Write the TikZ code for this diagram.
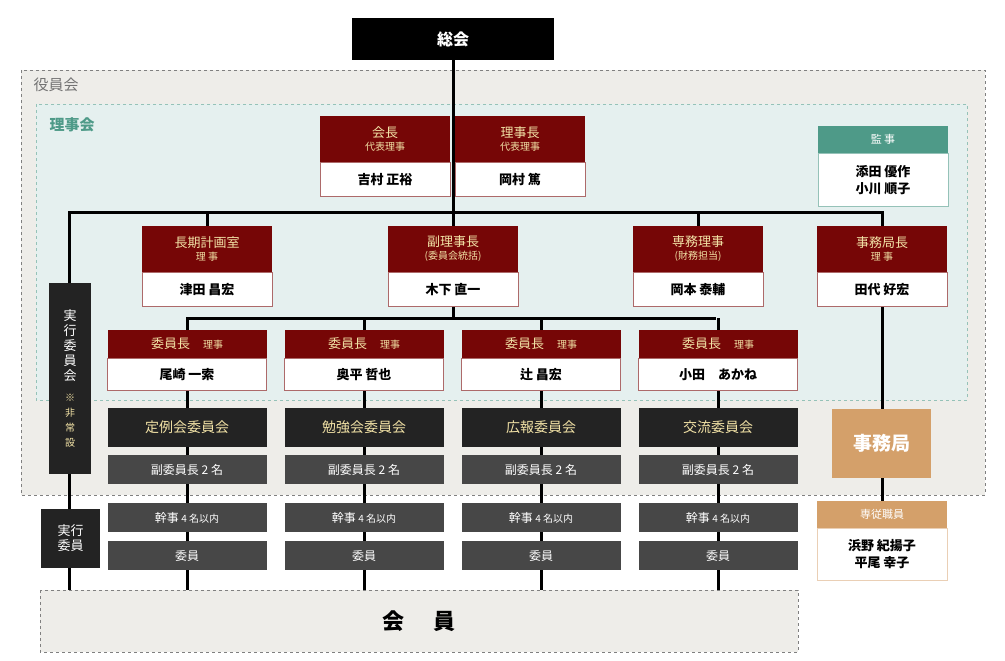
\documentclass[tikz,border=0pt]{standalone}
\usepackage{fontspec}
\setmainfont{Noto Sans CJK JP}
\usetikzlibrary{positioning}
\definecolor{darkred}{HTML}{760606}
\definecolor{cream}{HTML}{F2E2A6}
\definecolor{outerbg}{HTML}{EEEDE9}
\definecolor{innerbg}{HTML}{E5F0EF}
\definecolor{teal}{HTML}{4E9A88}
\definecolor{orange}{HTML}{D4A06A}
\definecolor{boxgray}{HTML}{474747}
\definecolor{boxblack}{HTML}{232323}
\newcommand{\smallcream}[1]{\textcolor{cream}{\fontsize{10}{11}\selectfont #1}}
\tikzset{
  head/.style={fill=darkred, text=cream, minimum width=130pt, inner sep=0pt, align=center, font=\fontsize{13}{15}\selectfont},
  body/.style={draw=darkred!60, fill=white, minimum width=130pt, inner sep=0pt, font=\fontsize{13}{15}\selectfont\bfseries},
  cmt/.style={fill=boxblack, text=cream, minimum width=159pt, minimum height=39pt, inner sep=0pt, font=\fontsize{14}{16}\selectfont},
  sub/.style={fill=boxgray, text=white, minimum width=159pt, minimum height=29pt, inner sep=0pt, font=\fontsize{12}{14}\selectfont},
  link/.style={line width=3pt}
}
\begin{document}
\begin{tikzpicture}[x=1pt, y=-1pt]
  \useasboundingbox (0,0) rectangle (1005,661);
  % Frames
  \draw[dashed, gray, fill=outerbg] (21,70) rectangle (985,495);
  \node[anchor=north west, text=gray!90!black, font=\fontsize{15}{17}\selectfont] (yakuin) at (30,74) {役員会};
  \draw[dashed, teal!60, fill=innerbg] (36,104) rectangle (967,400);
  \node[anchor=north west, text=teal, font=\fontsize{15}{17}\selectfont\bfseries] (rijikai) at (46,114) {理事会};
  \draw[dashed, gray, fill=outerbg] (40,590) rectangle (798,652);
  \node[font=\fontsize{22}{24}\selectfont\bfseries] (kaiin) at (419,621) {会\hspace{1.3em}員};

  % Lines
  \draw[link] (453,40) -- (453,318);
  \draw[link] (69,318) -- (69,212) -- (882,212) -- (882,520);
  \draw[link] (69,318) -- (69,590);
  \foreach \x in {207,453,698} \draw[link] (\x,212) -- (\x,240);
  \draw[link] (186,318) -- (716,318);
  \foreach \x in {187,364,541,718} \draw[link] (\x,318) -- (\x,590);

  % General assembly
  \node[fill=black, text=white, minimum width=202pt, minimum height=42pt, font=\fontsize{16}{18}\selectfont\bfseries] (soukai) at (453,39) {総会};

  % Chair and president
  \node[head, minimum height=46pt] (kaichoH) at (385,139) {会長\\[-2pt]{\fontsize{10}{12}\selectfont 代表理事}};
  \node[body, minimum height=34pt, below=0pt of kaichoH] (kaicho) {吉村 正裕};
  \node[head, minimum height=46pt] (rijichoH) at (520,139) {理事長\\[-2pt]{\fontsize{10}{12}\selectfont 代表理事}};
  \node[body, minimum height=34pt, below=0pt of rijichoH] (ricjicho) {岡村 篤};

  % Auditors
  \node[fill=teal, text=white, minimum width=130pt, minimum height=27pt, inner sep=0pt, font=\fontsize{11}{13}\selectfont] (kanjiH) at (883,139.5) {監 事};
  \node[draw=teal!60, fill=white, minimum width=130pt, minimum height=53pt, inner sep=0pt, align=center, below=0pt of kanjiH, font=\fontsize{13}{17}\selectfont\bfseries] (kanji) {添田 優作\\小川 順子};

  % Directors
  \node[head, minimum height=46pt] (choukiH) at (207,249) {長期計画室\\[-2pt]{\fontsize{10}{12}\selectfont 理 事}};
  \node[body, minimum height=34pt, below=0pt of choukiH] (chouki) {津田 昌宏};
  \node[head, minimum height=46pt] (fukuH) at (453,249) {副理事長\\[-2pt]{\fontsize{10}{12}\selectfont (委員会統括)}};
  \node[body, minimum height=34pt, below=0pt of fukuH] (fuku) {木下 直一};
  \node[head, minimum height=46pt] (senmuH) at (698,249) {専務理事\\[-2pt]{\fontsize{10}{12}\selectfont (財務担当)}};
  \node[body, minimum height=34pt, below=0pt of senmuH] (senmu) {岡本 泰輔};
  \node[head, minimum height=46pt] (jimuchoH) at (882,249) {事務局長\\[-2pt]{\fontsize{10}{12}\selectfont 理 事}};
  \node[body, minimum height=34pt, below=0pt of jimuchoH] (jimucho) {田代 好宏};

  % Committees
  \foreach \x/\nm/\cm [count=\i] in {187/尾崎 一索/定例会委員会, 364/奥平 哲也/勉強会委員会, 541/辻 昌宏/広報委員会, 718/小田\quad あかね/交流委員会} {
    \node[head, minimum width=159pt, minimum height=28pt] (chairH\i) at (\x,344) {委員長\quad{\fontsize{10}{12}\selectfont 理事}};
    \node[body, minimum width=159pt, minimum height=32pt, below=0pt of chairH\i] (chair\i) {\nm};
    \node[cmt] (cmt\i) at (\x,427.5) {\cm};
    \node[sub] (vice\i) at (\x,469.5) {副委員長 2 名};
    \node[sub] (kanji\i) at (\x,517.5) {幹事 {\fontsize{10}{12}\selectfont 4 名以内}};
    \node[sub] (iin\i) at (\x,555.5) {委員};
  }

  % Executive committee
  \node[fill=boxblack, text=white, minimum width=42pt, minimum height=191pt, inner sep=0pt, align=center, font=\fontsize{13}{15}\selectfont] (jikkoukai) at (70,378.5) {実\\行\\委\\員\\会\\[6pt]\smallcream{※}\\\smallcream{非}\\\smallcream{常}\\\smallcream{設}};
  \node[fill=boxblack, text=white, minimum width=59pt, minimum height=59pt, inner sep=0pt, align=center, font=\fontsize{13}{15}\selectfont] (jikkou) at (70.5,538.5) {実行\\委員};

  % Secretariat
  \node[fill=orange, text=white, minimum width=99pt, minimum height=69pt, font=\fontsize{19}{21}\selectfont\bfseries] (jimukyoku) at (881.5,443.5) {事務局};
  \node[fill=orange, text=white, minimum width=130pt, minimum height=27pt, inner sep=0pt, font=\fontsize{11}{13}\selectfont] (staffH) at (882,514.5) {専従職員};
  \node[draw=orange!50, fill=white, minimum width=130pt, minimum height=52pt, inner sep=0pt, align=center, below=0pt of staffH, font=\fontsize{13}{17}\selectfont\bfseries] (staff) {浜野 紀揚子\\平尾 幸子};
\end{tikzpicture}
\end{document}
